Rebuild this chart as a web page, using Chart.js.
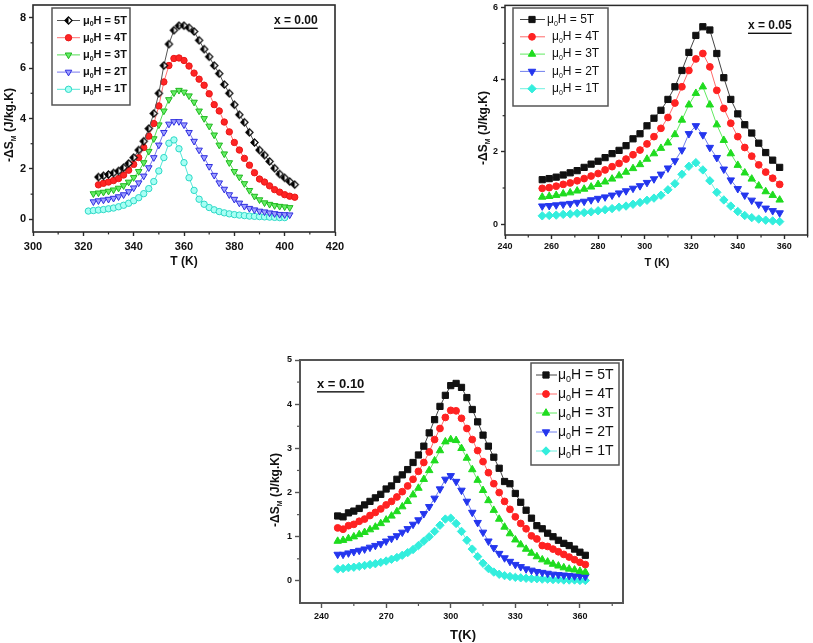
<!DOCTYPE html>
<html><head><meta charset="utf-8">
<script src="https://cdn.jsdelivr.net/npm/chart.js@4.4.1/dist/chart.umd.min.js"></script>
<style>
html,body{margin:0;padding:0;background:#fff;}
#wrap{position:relative;width:813px;height:643px;overflow:hidden;background:#fff;}
canvas{position:absolute;left:0;top:0;}
</style></head><body>
<div id="wrap">
<canvas id="c1" width="813" height="643"></canvas>
<canvas id="c2" width="813" height="643"></canvas>
<canvas id="c3" width="813" height="643"></canvas>
</div>
<script>
// ---------- DATA ----------
const fieldLabels = ['5T', '4T', '3T', '2T', '1T'];

// Panel (a): x = 0.00
const tempA = [322,324,326,328,330,332,334,336,338,340,342,344,346,348,350,352,354,356,358,360,362,364,366,368,370,372,374,376,378,380,382,384,386,388,390,392,394,396,398,400,402,404];
const a5T = [null,null,1.68,1.73,1.78,1.84,1.92,2.05,2.22,2.45,2.75,3.1,3.6,4.2,5.0,6.1,6.95,7.5,7.68,7.68,7.6,7.45,7.1,6.75,6.45,6.1,5.78,5.35,5.0,4.55,4.15,3.85,3.45,3.05,2.75,2.55,2.3,2.03,1.8,1.65,1.5,1.38];
const a4T = [null,null,1.37,1.43,1.48,1.54,1.62,1.76,1.95,2.18,2.45,2.85,3.3,3.8,4.5,5.45,6.1,6.38,6.4,6.3,6.08,5.8,5.56,5.32,4.98,4.55,4.3,3.86,3.47,3.05,2.75,2.42,2.15,1.85,1.6,1.48,1.33,1.18,1.08,0.98,0.92,0.88];
const a3T = [null,1.02,1.05,1.08,1.12,1.17,1.24,1.34,1.48,1.66,1.9,2.25,2.7,3.2,3.75,4.3,4.75,5.02,5.12,5.05,4.9,4.65,4.3,4.0,3.7,3.35,2.95,2.6,2.25,1.9,1.68,1.42,1.15,0.92,0.78,0.66,0.6,0.55,0.52,0.5,0.47,null];
const a2T = [null,0.70,0.74,0.77,0.8,0.84,0.9,0.98,1.1,1.25,1.45,1.72,2.05,2.45,2.95,3.45,3.78,3.88,3.88,3.75,3.45,3.1,2.75,2.45,2.1,1.75,1.45,1.2,0.98,0.8,0.65,0.52,0.44,0.38,0.33,0.3,0.26,0.23,0.2,0.19,0.18,null];
const a1T = [0.33,0.35,0.37,0.39,0.42,0.45,0.5,0.56,0.64,0.74,0.86,1.02,1.22,1.5,1.92,2.45,3.02,3.15,2.8,2.25,1.65,1.15,0.8,0.6,0.47,0.38,0.31,0.26,0.22,0.19,0.17,0.15,0.13,0.12,0.11,0.1,0.09,0.08,0.07,0.07,null,null];
const xTicksA = [300,320,340,360,380,400,420];
const xMinorA = [310,330,350,370,390,410];
const yTicksA = [0,2,4,6,8];
const yMinorA = [1,3,5,7];

// Panel (b): x = 0.05
const tempB = [256,259,262,265,268,271,274,277,280,283,286,289,292,295,298,301,304,307,310,313,316,319,322,325,328,331,334,337,340,343,346,349,352,355,358];
const b5T = [1.23,1.26,1.30,1.36,1.42,1.48,1.57,1.66,1.74,1.84,1.95,2.04,2.17,2.36,2.5,2.72,2.93,3.15,3.45,3.8,4.25,4.75,5.22,5.46,5.37,4.72,4.05,3.45,3.05,2.75,2.52,2.24,1.98,1.77,1.57];
const b4T = [0.99,1.01,1.05,1.1,1.14,1.2,1.26,1.33,1.4,1.5,1.59,1.68,1.8,1.92,2.05,2.22,2.42,2.65,2.95,3.35,3.8,4.25,4.57,4.72,4.35,3.7,3.2,2.79,2.42,2.12,1.88,1.64,1.44,1.27,1.1];
const b3T = [0.75,0.77,0.8,0.84,0.87,0.92,0.97,1.03,1.1,1.17,1.25,1.34,1.44,1.54,1.65,1.8,1.95,2.1,2.25,2.48,2.88,3.3,3.62,3.8,3.3,2.75,2.32,1.95,1.63,1.42,1.25,1.06,0.9,0.8,0.67];
const b2T = [0.5,0.51,0.53,0.55,0.57,0.6,0.63,0.67,0.71,0.75,0.8,0.86,0.92,0.99,1.06,1.15,1.25,1.38,1.55,1.75,2.05,2.5,2.72,2.47,2.12,1.84,1.52,1.22,0.98,0.8,0.66,0.55,0.44,0.37,0.31];
const b1T = [0.23,0.24,0.25,0.27,0.28,0.3,0.32,0.34,0.37,0.4,0.43,0.47,0.5,0.55,0.6,0.66,0.72,0.8,0.95,1.12,1.38,1.6,1.7,1.5,1.2,0.88,0.67,0.5,0.35,0.24,0.18,0.14,0.11,0.09,0.07];
const xTicksB = [240,260,280,300,320,340,360];
const xMinorB = [250,270,290,310,330,350,370];
const yTicksB = [0,2,4,6];
const yMinorB = [1,3,5];

// Panel (c): x = 0.10
const tempC = [247.5,250,252.5,255,257.5,260,262.5,265,267.5,270,272.5,275,277.5,280,282.5,285,287.5,290,292.5,295,297.5,300,302.5,305,307.5,310,312.5,315,317.5,320,322.5,325,327.5,330,332.5,335,337.5,340,342.5,345,347.5,350,352.5,355,357.5,360,362.5];
const c5T = [1.47,1.45,1.54,1.58,1.64,1.72,1.8,1.88,1.96,2.08,2.15,2.3,2.4,2.52,2.68,2.85,3.05,3.35,3.65,3.95,4.2,4.42,4.47,4.38,4.15,3.88,3.6,3.3,3.05,2.8,2.55,2.25,2.2,1.98,1.78,1.6,1.42,1.25,1.18,1.08,1.0,0.92,0.85,0.8,0.72,0.65,0.58];
const c4T = [1.2,1.17,1.25,1.28,1.35,1.4,1.48,1.55,1.63,1.72,1.8,1.9,2.02,2.15,2.3,2.48,2.68,2.92,3.2,3.45,3.7,3.86,3.85,3.68,3.45,3.2,2.95,2.7,2.45,2.2,2.0,1.8,1.62,1.45,1.3,1.18,1.02,0.95,0.8,0.78,0.72,0.66,0.6,0.54,0.48,0.42,0.37];
const c3T = [0.9,0.92,0.96,1.0,1.05,1.1,1.16,1.22,1.3,1.38,1.47,1.57,1.68,1.8,1.95,2.1,2.3,2.5,2.72,2.95,3.15,3.2,3.18,3.0,2.78,2.52,2.28,2.05,1.82,1.6,1.4,1.22,1.07,0.93,0.82,0.72,0.63,0.55,0.48,0.43,0.38,0.34,0.3,0.27,0.25,0.22,0.2];
const c2T = [0.6,0.6,0.63,0.66,0.69,0.72,0.76,0.8,0.84,0.9,0.96,1.02,1.1,1.18,1.28,1.38,1.52,1.68,1.87,2.08,2.3,2.38,2.25,2.05,1.8,1.55,1.32,1.1,0.9,0.75,0.62,0.52,0.44,0.37,0.32,0.27,0.24,0.21,0.19,0.17,0.15,0.14,0.13,0.12,0.11,0.11,0.1];
const c1T = [0.27,0.28,0.3,0.31,0.33,0.35,0.37,0.39,0.42,0.45,0.49,0.53,0.58,0.64,0.71,0.8,0.9,1.0,1.12,1.26,1.4,1.42,1.3,1.12,0.92,0.72,0.55,0.4,0.28,0.2,0.15,0.12,0.1,0.08,0.07,0.06,0.05,0.05,0.04,0.04,0.03,0.03,0.02,0.02,0.02,0.01,0.01];
const xTicksC = [240,270,300,330,360];
const xMinorC = [255,285,315,345,375];
const yTicksC = [0,1,2,3,4,5];
const yMinorC = [0.5,1.5,2.5,3.5,4.5];

const compLabels = ['x = 0.00', 'x = 0.05', 'x = 0.10'];

// ---------- STYLE ----------
const FAM = '"Liberation Sans", Arial, Helvetica, sans-serif';

function halfDiamond(r) {
  const s = Math.ceil(2 * r + 3);
  const c = document.createElement('canvas');
  c.width = s; c.height = s;
  const g = c.getContext('2d');
  const m = s / 2;
  g.beginPath(); g.moveTo(m, m - r); g.lineTo(m + r, m); g.lineTo(m, m + r); g.lineTo(m - r, m); g.closePath();
  g.fillStyle = '#fff'; g.fill();
  g.beginPath(); g.moveTo(m, m - r); g.lineTo(m, m + r); g.lineTo(m - r, m); g.closePath();
  g.fillStyle = '#000'; g.fill();
  g.beginPath(); g.moveTo(m, m - r); g.lineTo(m + r, m); g.lineTo(m, m + r); g.lineTo(m - r, m); g.closePath();
  g.strokeStyle = '#000'; g.lineWidth = 1.2; g.stroke();
  return c;
}

const stylesA = [
  {line:'#555555', fill:'#000', edge:'#000', style:halfDiamond(3.6), r:3.6, rot:0},
  {line:'#ff7070', fill:'#ff2424', edge:'#e81818', style:'circle', r:3.2, rot:0},
  {line:'#55dd55', fill:'#66ee66', edge:'#1fb81f', style:'triangle', r:3.8, rot:180},
  {line:'#7777ee', fill:'#a0a0ff', edge:'#2f2fe0', style:'triangle', r:3.8, rot:180},
  {line:'#55e8d8', fill:'#a8fff4', edge:'#2cd8c6', style:'circle', r:3.2, rot:0}
];
const stylesBC = [
  {line:'#444444', fill:'#111111', edge:'#111111', style:'rect', r:4.4, rot:0},
  {line:'#ff6a6a', fill:'#ff2222', edge:'#ff2222', style:'circle', r:3.4, rot:0},
  {line:'#60ea60', fill:'#1fdc1f', edge:'#1fdc1f', style:'triangle', r:4.3, rot:0},
  {line:'#6f7fee', fill:'#2436ee', edge:'#2436ee', style:'triangle', r:4.3, rot:180},
  {line:'#6ff0e0', fill:'#33eedd', edge:'#33eedd', style:'rectRot', r:4.2, rot:0}
];

const panels = [
  {
    id:'c1', temps:tempA, values:[a5T,a4T,a3T,a2T,a1T], styles:stylesA,
    area:{l:33,t:5,r:335,b:232}, x:{min:300,max:420,ticks:xTicksA,minor:xMinorA}, y:{min:-0.5,max:8.5,ticks:yTicksA,minor:yMinorA},
    tickFont:11, tickLen:4, xPad:4, yPad:3, frame:{color:'#2a2a2a', w:1.6},
    yTitle:{x:10,y:125,size:12}, xTitle:{text:'T (K)',x:184,y:262,size:12},
    legend:{box:[52,8,130,105], rows:[20.5,37.7,54.9,72.1,89.3], line:[57,80], mx:68.5, tx:[83,83,83,83,83], size:11, bold:true},
    comp:{text:compLabels[0], x:274, y:21, size:12}
  },
  {
    id:'c2', temps:tempB, values:[b5T,b4T,b3T,b2T,b1T], styles:stylesBC,
    area:{l:505,t:5,r:809,b:235}, x:{min:240,max:370,ticks:xTicksB,minor:xMinorB}, y:{min:-0.3,max:6.05,ticks:yTicksB,minor:yMinorB},
    tickFont:9, tickLen:4, xPad:2, yPad:3, frame:{color:'#2a2a2a', w:1.5},
    yTitle:{x:484,y:128,size:12}, xTitle:{text:'T (K)',x:657,y:263,size:11},
    legend:{box:[513,8,608,106], rows:[19.5,36.8,54.1,71.4,88.7], line:[520,545], mx:532, tx:[547,552,552,552,552], size:12, bold:false},
    comp:{text:compLabels[1], x:748, y:26, size:12}
  },
  {
    id:'c3', temps:tempC, values:[c5T,c4T,c3T,c2T,c1T], styles:stylesBC,
    area:{l:300,t:360,r:623,b:603}, x:{min:230,max:380,ticks:xTicksC,minor:xMinorC}, y:{min:-0.5,max:5,ticks:yTicksC,minor:yMinorC},
    tickFont:9, tickLen:5, xPad:3, yPad:3, frame:{color:'#555555', w:2},
    yTitle:{x:276,y:490,size:12}, xTitle:{text:'T(K)',x:463,y:635,size:13},
    legend:{box:[531,363,619,465], rows:[375,394,413,432,451], line:[536,557], mx:546, tx:[558,558,558,558,558], size:14, bold:false},
    comp:{text:compLabels[2], x:317, y:384, size:13}
  }
];

function drawYTitle(ctx, cx, cy, size) {
  ctx.save();
  ctx.translate(cx, cy);
  ctx.rotate(-Math.PI / 2);
  const big = 'bold ' + size + 'px ' + FAM;
  const small = 'bold ' + Math.round(size * 0.6) + 'px ' + FAM;
  const p1 = '-\u0394S', p2 = 'M', p3 = ' (J/kg.K)';
  ctx.font = big; const w1 = ctx.measureText(p1).width, w3 = ctx.measureText(p3).width;
  ctx.font = small; const w2 = ctx.measureText(p2).width;
  let x = -(w1 + w2 + w3) / 2;
  ctx.fillStyle = '#111'; ctx.textBaseline = 'middle'; ctx.textAlign = 'left';
  ctx.font = big; ctx.fillText(p1, x, 0); x += w1;
  ctx.font = small; ctx.fillText(p2, x, size * 0.35); x += w2;
  ctx.font = big; ctx.fillText(p3, x, 0);
  ctx.restore();
}

function legendText(ctx, x, y, label, size, bold) {
  const w = bold ? 'bold ' : '';
  const big = w + size + 'px ' + FAM;
  const small = w + Math.round(size * 0.62) + 'px ' + FAM;
  ctx.fillStyle = '#111'; ctx.textBaseline = 'middle'; ctx.textAlign = 'left';
  ctx.font = big; ctx.fillText('\u03bc', x, y); x += ctx.measureText('\u03bc').width;
  ctx.font = small; ctx.fillText('0', x, y + size * 0.35); x += ctx.measureText('0').width;
  ctx.font = big; ctx.fillText('H = ' + label, x, y);
}

function makePlugin(P) {
  return {
    id: 'decor',
    afterDraw(chart) {
      const ctx = chart.ctx, a = chart.chartArea;
      const xs = chart.scales.x, ys = chart.scales.y;
      ctx.save();
      // minor ticks (outward)
      ctx.strokeStyle = P.frame.color; ctx.lineWidth = 1.2;
      P.x.minor.forEach(v => { const px = xs.getPixelForValue(v); ctx.beginPath(); ctx.moveTo(px, a.bottom); ctx.lineTo(px, a.bottom + P.tickLen * 0.6); ctx.stroke(); });
      P.y.minor.forEach(v => { const py = ys.getPixelForValue(v); ctx.beginPath(); ctx.moveTo(a.left, py); ctx.lineTo(a.left - P.tickLen * 0.6, py); ctx.stroke(); });
      // frame
      ctx.strokeStyle = P.frame.color; ctx.lineWidth = P.frame.w;
      ctx.strokeRect(a.left, a.top, a.right - a.left, a.bottom - a.top);
      // axis titles
      drawYTitle(ctx, P.yTitle.x, P.yTitle.y, P.yTitle.size);
      ctx.font = 'bold ' + P.xTitle.size + 'px ' + FAM; ctx.fillStyle = '#111';
      ctx.textAlign = 'center'; ctx.textBaseline = 'middle';
      ctx.fillText(P.xTitle.text, P.xTitle.x, P.xTitle.y);
      // composition label, underlined
      ctx.font = 'bold ' + P.comp.size + 'px ' + FAM; ctx.textAlign = 'left';
      ctx.fillText(P.comp.text, P.comp.x, P.comp.y);
      const cw = ctx.measureText(P.comp.text).width;
      ctx.fillRect(P.comp.x, P.comp.y + P.comp.size * 0.55, cw, 1.4);
      // legend
      const L = P.legend;
      ctx.fillStyle = '#fff';
      ctx.fillRect(L.box[0], L.box[1], L.box[2] - L.box[0], L.box[3] - L.box[1]);
      ctx.strokeStyle = '#555'; ctx.lineWidth = 1.5;
      ctx.strokeRect(L.box[0], L.box[1], L.box[2] - L.box[0], L.box[3] - L.box[1]);
      fieldLabels.forEach((lab, i) => {
        const s = P.styles[i], y = L.rows[i];
        ctx.strokeStyle = s.line; ctx.lineWidth = 1;
        ctx.beginPath(); ctx.moveTo(L.line[0], y); ctx.lineTo(L.line[1], y); ctx.stroke();
        ctx.fillStyle = s.fill; ctx.strokeStyle = s.edge; ctx.lineWidth = 1;
        Chart.helpers.drawPoint(ctx, {pointStyle: s.style, radius: s.r, rotation: s.rot, borderWidth: 1}, L.mx, y);
        legendText(ctx, L.tx[i], y, lab, L.size, L.bold);
      });
      ctx.restore();
    }
  };
}

function build(P) {
  const datasets = P.values.map((vals, i) => {
    const s = P.styles[i];
    return {
      label: fieldLabels[i],
      data: P.temps.map((t, k) => ({x: t, y: vals[k]})),
      borderColor: s.line, borderWidth: 1,
      backgroundColor: s.fill, pointBackgroundColor: s.fill, pointBorderColor: s.edge, pointBorderWidth: 1,
      pointStyle: s.style, pointRadius: s.r, pointHoverRadius: s.r, pointRotation: s.rot,
      tension: 0, fill: false, spanGaps: false, clip: false
    };
  });
  const yw = 30, xh = 24;
  const tickFont = {family: FAM, size: P.tickFont, weight: 'bold'};
  new Chart(document.getElementById(P.id), {
    type: 'line',
    data: {datasets},
    options: {
      responsive: false, animation: false, events: [],
      layout: {padding: {left: P.area.l - yw, top: P.area.t, right: 813 - P.area.r, bottom: 643 - P.area.b - xh}},
      plugins: {legend: {display: false}, tooltip: {enabled: false}},
      scales: {
        x: {
          type: 'linear', min: P.x.min, max: P.x.max,
          afterBuildTicks: s => { s.ticks = P.x.ticks.map(v => ({value: v})); },
          afterFit: s => { s.height = xh; s.paddingLeft = 0; s.paddingRight = 0; },
          ticks: {autoSkip: false, maxRotation: 0, font: tickFont, color: '#111', padding: P.xPad},
          grid: {drawOnChartArea: false, drawTicks: true, tickLength: P.tickLen, tickColor: P.frame.color, tickWidth: 1.4},
          border: {display: false}
        },
        y: {
          type: 'linear', min: P.y.min, max: P.y.max,
          afterBuildTicks: s => { s.ticks = P.y.ticks.map(v => ({value: v})); },
          afterFit: s => { s.width = yw; s.paddingTop = 0; s.paddingBottom = 0; },
          ticks: {autoSkip: false, font: tickFont, color: '#111', padding: P.yPad},
          grid: {drawOnChartArea: false, drawTicks: true, tickLength: P.tickLen, tickColor: P.frame.color, tickWidth: 1.4},
          border: {display: false}
        }
      }
    },
    plugins: [makePlugin(P)]
  });
}

panels.forEach(build);
</script>
</body></html>
